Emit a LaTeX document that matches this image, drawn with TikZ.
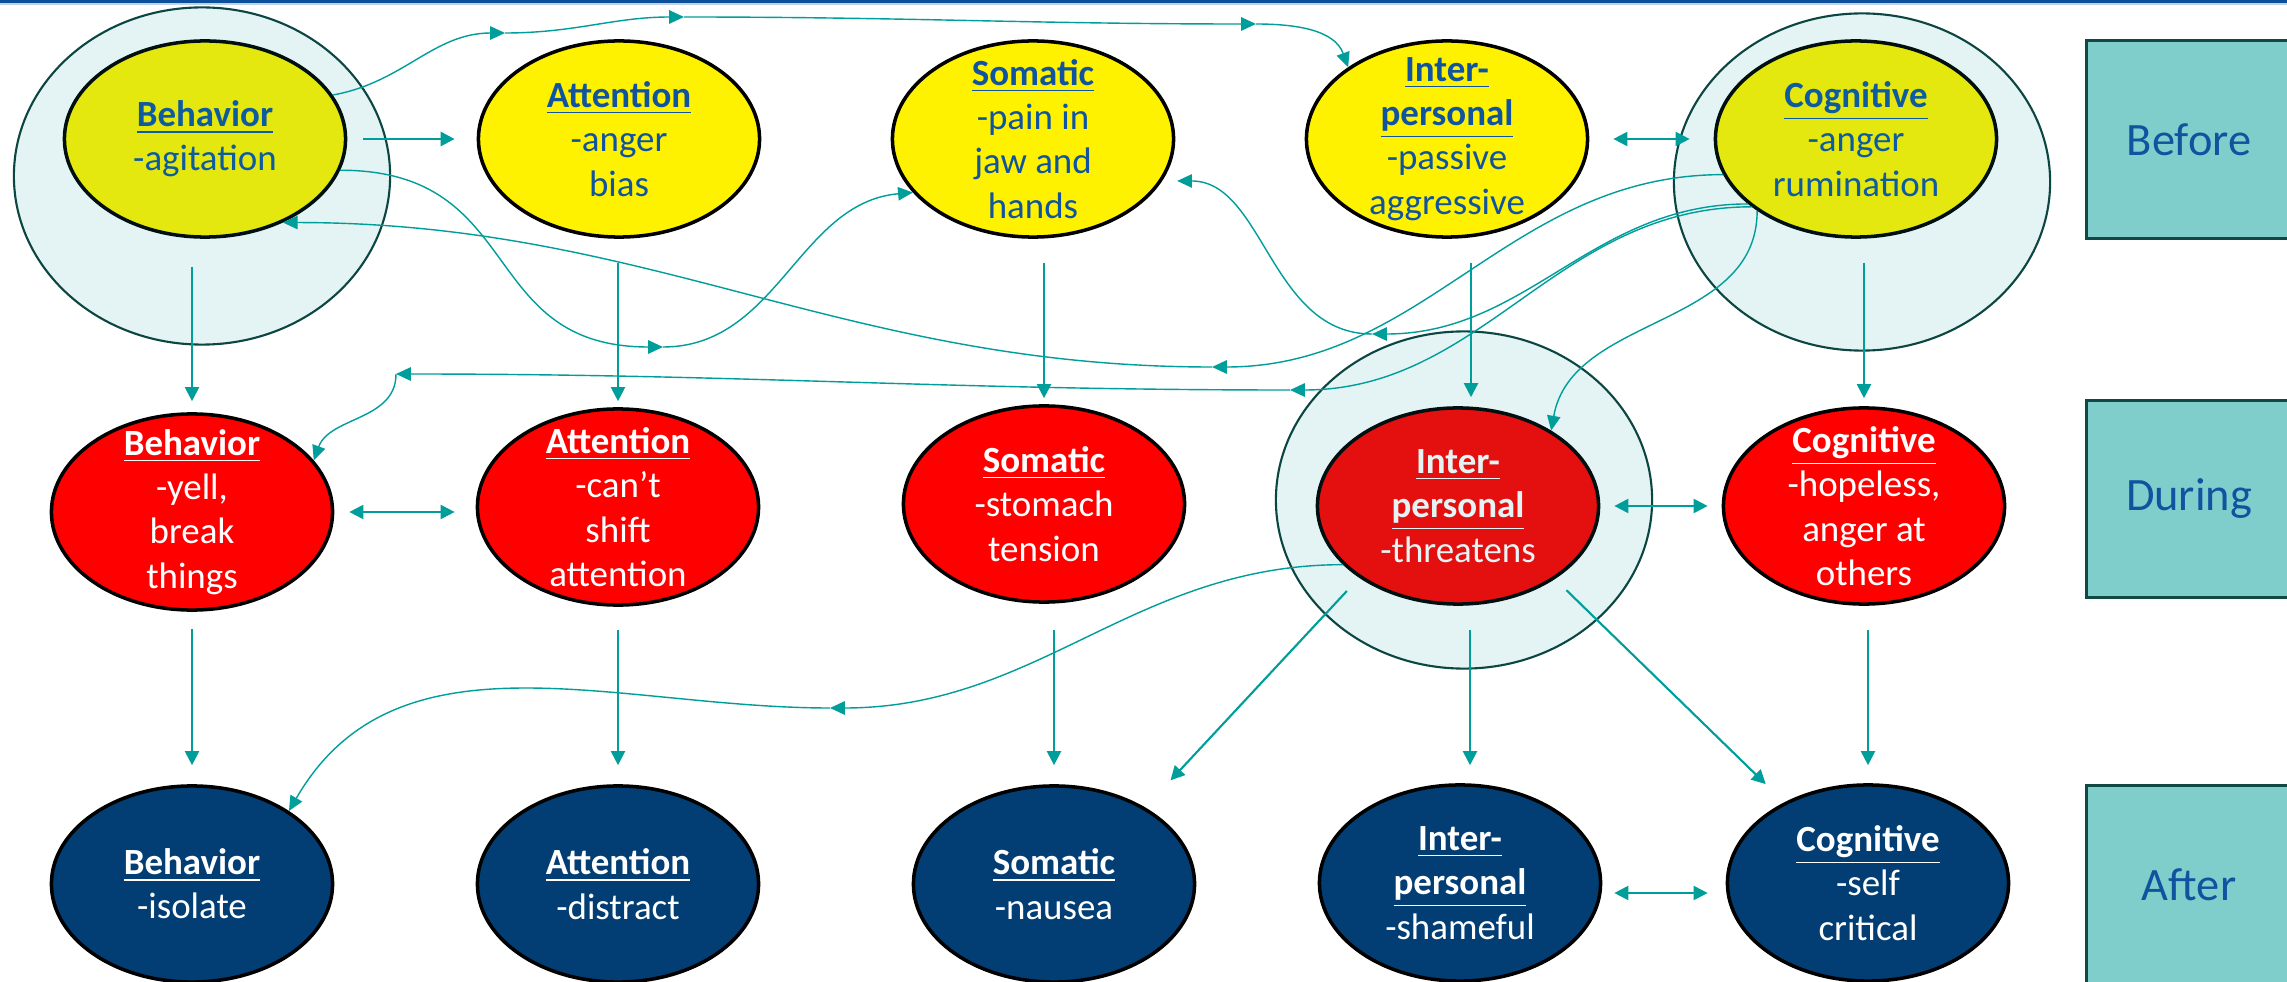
\documentclass[tikz,border=0pt]{standalone}
\usepackage{fontspec}
\setmainfont{Carlito}
\usetikzlibrary{shapes.geometric, arrows.meta, positioning}

\definecolor{inkblue}{RGB}{16,84,160}
\definecolor{deepblue}{RGB}{2,62,115}
\definecolor{linkteal}{RGB}{0,158,154}
\definecolor{phasefill}{RGB}{128,206,204}
\definecolor{phaseedge}{RGB}{16,72,68}
\definecolor{ringedge}{RGB}{12,70,66}
\definecolor{ringtint}{RGB}{0,151,151}
\definecolor{barblue}{RGB}{12,80,155}

\begin{document}
\begin{tikzpicture}[x=0.01cm, y=-0.01cm,
    bubble/.style={ellipse, draw=black, line width=1pt, minimum width=2.81cm,
        minimum height=1.96cm, inner sep=-0.2cm, align=center,
        font=\fontsize{10.5}{12.6}\selectfont},
    yellowbub/.style={bubble, fill=yellow, text=inkblue},
    redbub/.style={bubble, fill=red, text=white},
    bluebub/.style={bubble, fill=deepblue, text=white},
    ring/.style={ellipse, draw=ringedge, line width=0.6pt, fill=ringtint,
        fill opacity=0.106, minimum width=3.76cm, minimum height=3.37cm},
    phase/.style={rectangle, draw=phaseedge, line width=0.85pt, fill=phasefill,
        text=inkblue, minimum width=2.04cm, minimum height=1.97cm,
        font=\fontsize{13.2}{16}\selectfont},
    flow/.style={draw=linkteal, line width=0.6pt, -{Triangle[length=4pt, width=4pt]}},
    twoway/.style={flow, {Triangle[length=4pt, width=4pt]}-{Triangle[length=4pt, width=4pt]}},
    link/.style={draw=linkteal, line width=0.4pt, -{Triangle[length=4.2pt, width=3.8pt]}}]

        \useasboundingbox (0,0) rectangle (2287,982);
        \clip (0,0) rectangle (2287,982);
        \fill[white] (0,0) rectangle (2287,982);
        \fill[barblue] (0,0) rectangle (2287,3.5);
        \fill[barblue!25] (0,3.5) rectangle (2287,5.5);

        \node[yellowbub] (bY) at (205,139) {\underline{\textbf{Behavior}}\\-agitation};
        \node[yellowbub] (aY) at (619,139) {\underline{\textbf{Attention}}\\-anger\\bias};
        \node[yellowbub] (sY) at (1033,139) {\underline{\textbf{Somatic}}\\-pain in\\jaw and\\hands};
        \node[yellowbub] (iY) at (1447,139) {\underline{\textbf{Inter-}}\\\underline{\textbf{personal}}\\-passive\\aggressive};
        \node[yellowbub] (cY) at (1856,139) {\underline{\textbf{Cognitive}}\\-anger\\rumination};

        \node[redbub] (bR) at (192,512) {\underline{\textbf{Behavior}}\\-yell,\\break\\things};
        \node[redbub] (aR) at (618,507) {\underline{\textbf{Attention}}\\-can’t\\shift\\attention};
        \node[redbub] (sR) at (1044,504) {\underline{\textbf{Somatic}}\\-stomach\\tension};
        \node[redbub] (iR) at (1458,506) {\underline{\textbf{Inter-}}\\\underline{\textbf{personal}}\\-threatens};
        \node[redbub] (cR) at (1864,506) {\underline{\textbf{Cognitive}}\\-hopeless,\\anger at\\others};

        \node[bluebub] (bB) at (192,884) {\underline{\textbf{Behavior}}\\-isolate};
        \node[bluebub] (aB) at (618,884) {\underline{\textbf{Attention}}\\-distract};
        \node[bluebub] (sB) at (1054,884) {\underline{\textbf{Somatic}}\\-nausea};
        \node[bluebub] (iB) at (1460,883) {\underline{\textbf{Inter-}}\\\underline{\textbf{personal}}\\-shameful};
        \node[bluebub] (cB) at (1868,883) {\underline{\textbf{Cognitive}}\\-self\\critical};

        \node[ring] (bRing) at (202,176) {};
        \node[ring] (cRing) at (1862,182) {};
        \node[ring] (iRing) at (1464,500) {};

        \node[phase] (before) at (2189,139.5) {Before};
        \node[phase] (during) at (2189,499) {During};
        \node[phase] (after) at (2189,884.5) {After};

        \coordinate (w1) at (505,33);
        \coordinate (w2) at (684,17);
        \coordinate (w3) at (1256,24);
        \coordinate (w4) at (663,347);
        \coordinate (w5) at (1372,334);
        \coordinate (w6) at (1212,367);
        \coordinate (w7) at (1290,390);
        \coordinate (w8) at (396,374);
        \coordinate (w9) at (830,708);

        \draw[flow, shorten <=0.28cm, shorten >=0.11cm] (bR |- bY.south) -- (bR.north);
        \draw[flow, shorten <=0.24cm, shorten >=0.06cm] (aR |- aY.south) -- (aR.north);
        \draw[flow, shorten <=0.24cm, shorten >=0.06cm] (sR |- sY.south) -- (sR.north);
        \draw[flow, shorten <=0.24cm, shorten >=0.09cm] ([xshift=0.13cm]iR.north |- iY.south) -- ([xshift=0.13cm]iR.north);
        \draw[flow, shorten <=0.24cm, shorten >=0.08cm] (cR |- cY.south) -- (cR.north);

        \draw[flow, shorten <=0.17cm, shorten >=0.19cm] (bR.south) -- (bB.north);
        \draw[flow, shorten <=0.23cm, shorten >=0.19cm] (aR.south) -- (aB.north);
        \draw[flow, shorten <=0.26cm, shorten >=0.19cm] (sB |- sR.south) -- (sB.north);
        \draw[flow, shorten <=0.24cm, shorten >=0.18cm] ([xshift=0.1cm]iB |- iR.south) -- ([xshift=0.1cm]iB.north);
        \draw[flow, shorten <=0.24cm, shorten >=0.18cm] (cB |- cR.south) -- (cB.north);
        \draw[flow, shorten <=0.18cm, shorten >=0.37cm] (iR.216) -- (sB.40);
        \draw[flow, shorten <=0.16cm, shorten >=0.26cm] (iR.323) -- (cB.136);

        \draw[flow, line width=0.8pt, shorten <=0.16cm, shorten >=0.22cm] (bY.east) -- (aY.west);
        \draw[twoway, shorten <=0.24cm, shorten >=0.24cm] (iY.east) -- (cY.west);
        \draw[twoway, shorten <=0.15cm, shorten >=0.21cm] (bR.east) -- (aR.west |- bR.east);
        \draw[twoway, shorten <=0.14cm, shorten >=0.14cm] (iR.east) -- (cR.west);
        \draw[twoway, shorten <=0.12cm, shorten >=0.18cm] ([yshift=-0.1cm]iB.east) -- ([yshift=-0.1cm]cB.west);

        \draw[link] (bY.19) to[out=10, in=180] (w1);
        \draw[link] (w1) to[out=0, in=180] (w2);
        \draw[link] (w2) to[out=0, in=180] (w3);
        \draw[link] (w3) to[out=0, in=110] (iY.144);
        \draw[link] (bY.-13) to[out=0, in=180, looseness=1.3] (w4);
        \draw[link] (w4) to[out=0, in=185] (sY.204);
        \draw[link, shorten >=0.15cm] (w5) to[out=180, in=0] (sY.-18);
        \draw[link] (cY.211) to[out=180, in=0] (w5);
        \draw[link] (cY.195) to[out=180, in=0] (w6);
        \draw[link] (w6) to[out=180, in=0] (bY.313);
        \draw[link] (cY.213) to[out=180, in=0] (w7);
        \draw[link] (w7) to[out=180, in=0] (w8);
        \draw[link] (w8) to[out=-90, in=70] (bR.23);
        \draw[link] (cY.216) to[out=-90, in=80] (iR.39);
        \draw[link] (iR.207) to[out=180, in=0] (w9);
        \draw[link] (w9) to[out=180, in=60] (bB.37);
    \end{tikzpicture}
\end{document}
